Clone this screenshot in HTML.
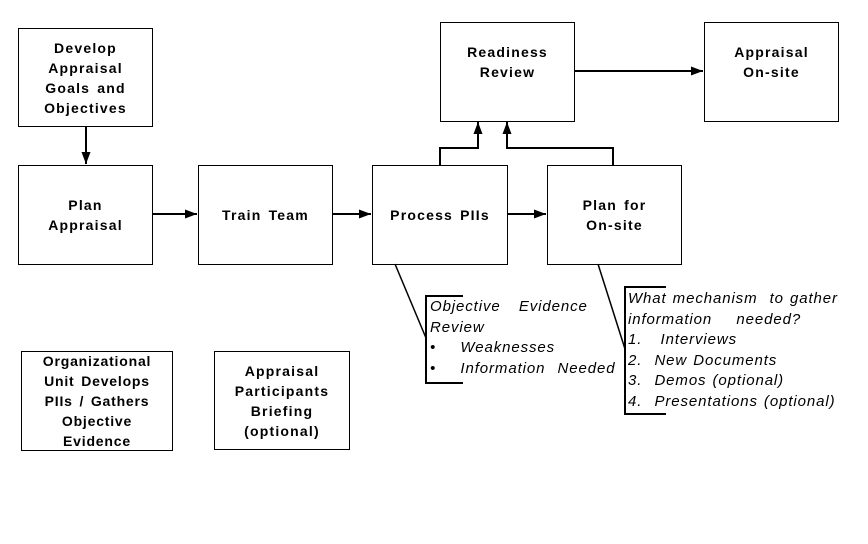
<!DOCTYPE html>
<html><head><style>
body{margin:0;width:868px;height:544px;background:#fff;position:relative;font-family:"Liberation Sans",sans-serif;overflow:hidden}
.b{position:absolute;border:1px solid #000;box-sizing:border-box;display:flex;align-items:center;justify-content:center;text-align:center;font-weight:bold;font-size:14px;line-height:20px;letter-spacing:1.2px;word-spacing:2px}
.t{position:absolute;font-style:italic;font-size:15px;line-height:20.5px;color:#000;white-space:nowrap;letter-spacing:0.9px;word-spacing:1px}
</style></head><body>
<svg width="868" height="544" style="position:absolute;left:0;top:0">
<defs><marker id="a" markerWidth="12" markerHeight="9" refX="12" refY="4.5" orient="auto" markerUnits="userSpaceOnUse"><path d="M0,0L12,4.5L0,9z"/></marker></defs>
<g stroke="#000" stroke-width="2" fill="none">
<line x1="86" y1="126" x2="86" y2="164" marker-end="url(#a)"/>
<line x1="152" y1="214" x2="197" y2="214" marker-end="url(#a)"/>
<line x1="332" y1="214" x2="371" y2="214" marker-end="url(#a)"/>
<line x1="507" y1="214" x2="546" y2="214" marker-end="url(#a)"/>
<line x1="574" y1="71" x2="703" y2="71" marker-end="url(#a)"/>
<polyline points="440,165 440,148 478,148 478,122" marker-end="url(#a)"/>
<polyline points="613,165 613,148 507,148 507,122" marker-end="url(#a)"/>
<line x1="395" y1="264" x2="426" y2="338" stroke-width="1.5"/>
<line x1="598" y1="264" x2="625" y2="349" stroke-width="1.5"/>
<polyline points="463,296 426,296 426,383 463,383"/>
<polyline points="666,287 625,287 625,414 666,414"/>
</g></svg>
<div class="b" style="left:18px;top:28px;width:135px;height:99px">Develop<br>Appraisal<br>Goals and<br>Objectives</div>
<div class="b" style="left:18px;top:165px;width:135px;height:100px">Plan<br>Appraisal</div>
<div class="b" style="left:198px;top:165px;width:135px;height:100px">Train Team</div>
<div class="b" style="left:372px;top:165px;width:136px;height:100px">Process PIIs</div>
<div class="b" style="left:547px;top:165px;width:135px;height:100px">Plan for<br>On-site</div>
<div class="b" style="left:440px;top:22px;width:135px;height:100px;padding-bottom:20px">Readiness<br>Review</div>
<div class="b" style="left:704px;top:22px;width:135px;height:100px;padding-bottom:20px">Appraisal<br>On-site</div>
<div class="b" style="left:21px;top:351px;width:152px;height:100px;letter-spacing:0.8px">Organizational<br>Unit Develops<br>PIIs / Gathers<br>Objective<br>Evidence</div>
<div class="b" style="left:214px;top:351px;width:136px;height:99px">Appraisal<br>Participants<br>Briefing<br>(optional)</div>
<div class="t" style="left:430px;top:297px">Objective &nbsp; Evidence<br>Review<br>• &nbsp;&nbsp; Weaknesses<br>• &nbsp;&nbsp; Information &nbsp;Needed</div>
<div class="t" style="left:628px;top:289px">What mechanism &nbsp;to gather<br>information &nbsp;&nbsp; needed?<br>1. &nbsp; Interviews<br>2. &nbsp;New Documents<br>3. &nbsp;Demos (optional)<br>4. &nbsp;Presentations (optional)</div>
</body></html>
